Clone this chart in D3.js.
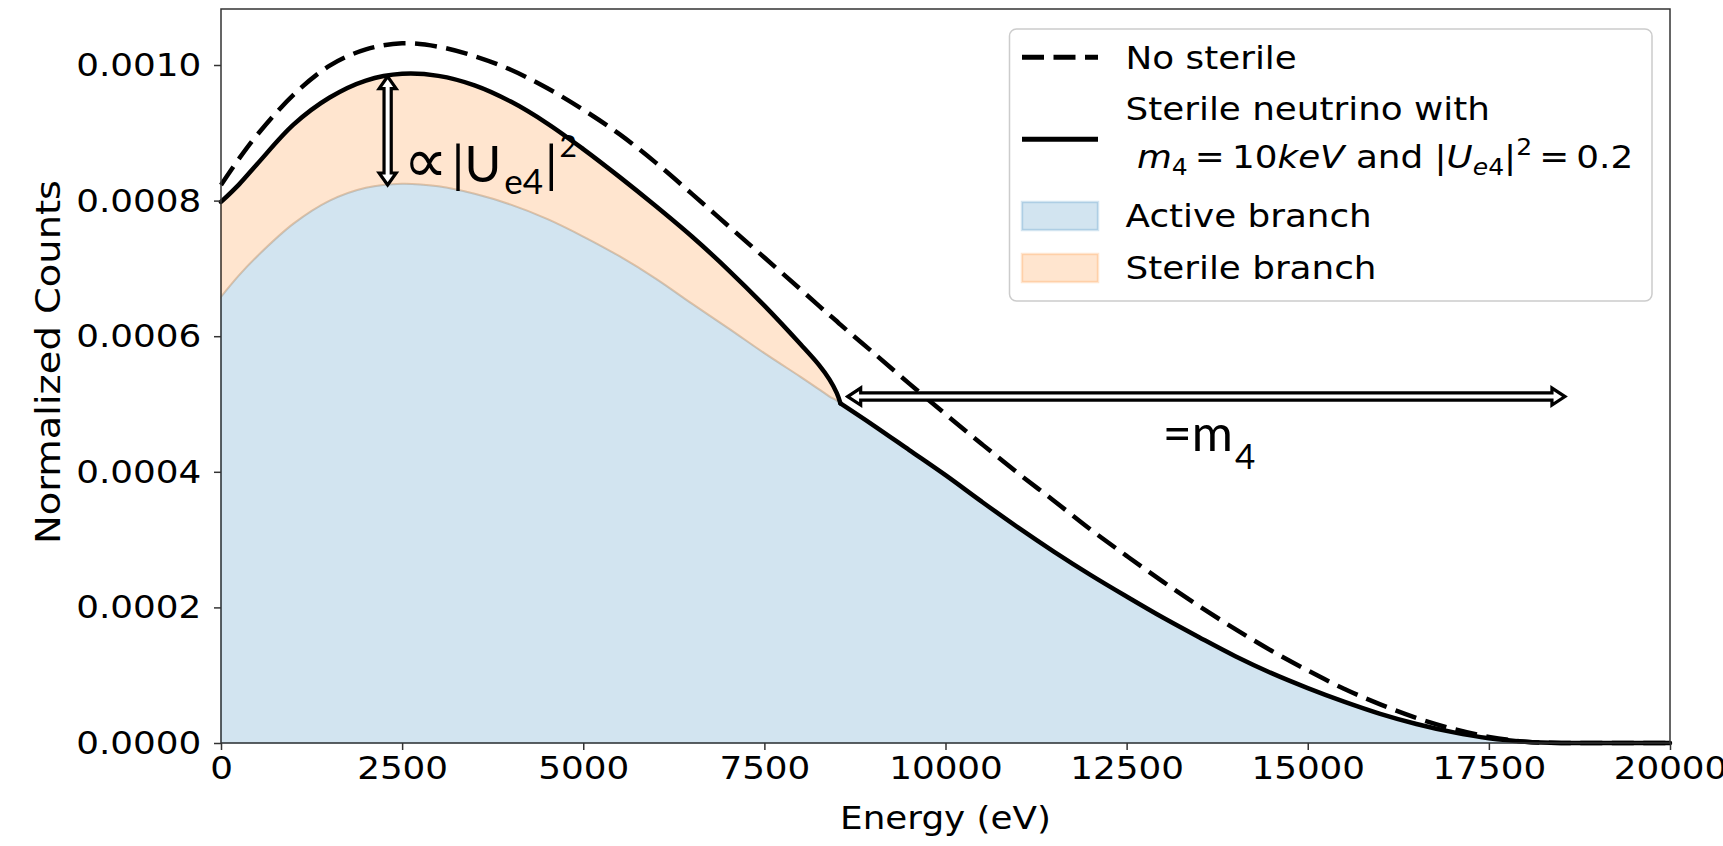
<!DOCTYPE html>
<html><head><meta charset="utf-8">
<script src="https://cdn.jsdelivr.net/npm/d3@7"></script>
<style>
body{margin:0;background:#fff;}
svg text{font-family:"DejaVu Sans",sans-serif;fill:#000;}
</style></head>
<body><svg id="chart" width="1723" height="846"></svg>
<script>
// ---------- data ----------
const energy = [0,250,500,1000,1500,2000,2500,3000,3500,4000,4500,5000,5500,6000,6500,7000,7500,8000,8250,8400,8500,8550,
  9000,9500,10000,10500,11000,11500,12000,12500,13000,13500,14000,14500,15000,15500,16000,16500,17000,17500,18000,18500,19000,19500,20000];
const noSterile = [0.000823,0.000862,0.000897,0.000956,0.000999,0.001023,0.001032,0.001027,0.001013,0.000993,0.000966,0.000934,
  0.000898,0.000856,0.000810,0.000763,0.000716,0.000669,0.000645,0.000631,0.000622,0.000617,
  0.000576,0.000530,0.000485,0.000441,0.000398,0.000357,0.000315,0.000276,0.000238,0.000202,0.000168,0.000136,0.000107,
  0.000080,0.000057,0.000037,0.000021,0.000009,0.000002,0,0,0,0];
const activeBranch = [0.000658,0.000690,0.000718,0.000766,0.000800,0.000819,0.000825,0.000821,0.000810,0.000794,0.000773,0.000747,
  0.000718,0.000685,0.000648,0.000612,0.000575,0.000540,0.000522,0.000511,0.000505,0.000501,
  0.000469,0.000432,0.000395,0.000356,0.000318,0.000282,0.000248,0.000216,0.000185,0.000156,0.000128,0.000103,0.000081,
  0.000061,0.000043,0.000028,0.000016,0.000007,0.000002,0,0,0,0];
const withSterile = [0.000798,0.000824,0.000854,0.000912,0.000952,0.000977,0.000987,0.000984,0.000970,0.000946,0.000914,0.000876,
  0.000835,0.000792,0.000747,0.000698,0.000645,0.000588,0.000558,0.000536,0.000516,0.000501,
  0.000469,0.000432,0.000395,0.000356,0.000318,0.000282,0.000248,0.000216,0.000185,0.000156,0.000128,0.000103,0.000081,
  0.000061,0.000043,0.000028,0.000016,0.000007,0.000002,0,0,0,0];
const kinkEnergy = 8550;             // end of the sterile branch (E0 - m4)
const xTicks = [0,2500,5000,7500,10000,12500,15000,17500,20000];
const yTicks = [0,0.0002,0.0004,0.0006,0.0008,0.0010];
const legendLabels = ["No sterile","Sterile neutrino with","Active branch","Sterile branch"];
// annotation anchors in data units
const uArrow = {e:2300, top:0.000983, bottom:0.000823};
const mArrow = {from:8650, to:18550, v:0.000511};
const uLabel = {e:2520, v:0.000828};
const mLabel = {e:13000, v:0.000430};

// ---------- layout ----------
const M = {left:221, right:1670, top:9, bottom:743};
const SX = 1.1, FS = 32.5;
const x = d3.scaleLinear().domain([0,20000]).range([M.left,M.right]);
const y = d3.scaleLinear().domain([0,0.0010826]).range([M.bottom,M.top]);
const svg = d3.select('#chart');
const pts = energy.map((e,i)=>({e, ns:noSterile[i], a:activeBranch[i], t:withSterile[i]}));
const k = energy.indexOf(kinkEnergy);
const curve = d3.curveCatmullRom.alpha(0.5);
const BLUE = '#1f77b4', ORANGE = '#ff7f0e';

// active branch fill
svg.append('path').datum(pts)
  .attr('d', d3.area().x(d=>x(d.e)).y0(y(0)).y1(d=>y(d.a)).curve(curve))
  .attr('fill',BLUE).attr('fill-opacity',0.2).attr('stroke',BLUE).attr('stroke-opacity',0.2).attr('stroke-width',2);
// sterile branch fill
svg.append('path').datum(pts.slice(0,k+1))
  .attr('d', d3.area().x(d=>x(d.e)).y0(d=>y(d.a)).y1(d=>y(d.t)).curve(curve))
  .attr('fill',ORANGE).attr('fill-opacity',0.2).attr('stroke',ORANGE).attr('stroke-opacity',0.2).attr('stroke-width',2);

// no sterile (dashed)
svg.append('path').datum(pts)
  .attr('d', d3.line().x(d=>x(d.e)).y(d=>y(d.ns)).curve(curve))
  .attr('fill','none').attr('stroke','#000').attr('stroke-width',4.5).attr('stroke-dasharray','22,9.5');
// with sterile (solid), two pieces so the kink stays sharp
const solidLine = d3.line().x(d=>x(d.e)).y(d=>y(d.t)).curve(curve);
[pts.slice(0,k+1), pts.slice(k)].forEach(seg=>{
  svg.append('path').datum(seg).attr('d', solidLine)
    .attr('fill','none').attr('stroke','#000').attr('stroke-width',4.5)
    .attr('stroke-linecap','round').attr('stroke-linejoin','round');
});

// ---------- hollow double arrows ----------
function hollowArrow(p0,p1,h,Hh,L){
  const dx=p1[0]-p0[0], dy=p1[1]-p0[1], len=Math.hypot(dx,dy);
  const ux=dx/len, uy=dy/len, nx=-uy, ny=ux;
  const loc=[[0,0],[L,Hh],[L,h],[len-L,h],[len-L,Hh],[len,0],[len-L,-Hh],[len-L,-h],[L,-h],[L,-Hh]];
  const g=loc.map(([t,s])=>[p0[0]+ux*t+nx*s, p0[1]+uy*t+ny*s]);
  svg.append('path').attr('d','M'+g.map(p=>p.join(',')).join('L')+'Z')
    .attr('fill','#fff').attr('stroke','#000').attr('stroke-width',3.2).attr('stroke-linejoin','miter');
}
hollowArrow([x(uArrow.e),y(uArrow.top)],[x(uArrow.e),y(uArrow.bottom)],3.6,8.5,12);
hollowArrow([x(mArrow.from),y(mArrow.v)],[x(mArrow.to),y(mArrow.v)],3.6,8.5,13);

// annotation texts
const ann = "Lato, 'DejaVu Sans', sans-serif";
const t1 = svg.append('text').attr('x',x(uLabel.e)).attr('y',y(uLabel.v)).style('font-family',ann).style('font-size','50px');
t1.append('tspan').text('∝').style('font-family',"'DejaVu Sans'").style('font-size','62px');
t1.append('tspan').attr('dx',4).text('|U');
t1.append('tspan').attr('dy',12).attr('dx',3).style('font-size','35px').text('e4');
t1.append('tspan').attr('dy',-12).attr('dx',2).text('|');
t1.append('tspan').attr('dy',-25).attr('dx',2).style('font-size','30px').text('2');

const t2 = svg.append('text').attr('x',x(mLabel.e)).attr('y',y(mLabel.v)).style('font-family',ann).style('font-size','50px');
t2.append('tspan').text('=m');
t2.append('tspan').attr('dy',18).attr('dx',2).style('font-size','35px').text('4');

// ---------- axes ----------
const yAxis = d3.axisLeft(y).tickValues(yTicks).tickFormat(d3.format('.4f')).tickSize(7).tickSizeOuter(0).tickPadding(11);
const gy = svg.append('g').attr('transform',`translate(${M.left},0)`).call(yAxis);
const xAxis = d3.axisBottom(x).tickValues(xTicks).tickFormat(d=>String(d)).tickSize(7).tickSizeOuter(0).tickPadding(6);
const gx = svg.append('g').attr('transform',`translate(0,${M.bottom})`).call(xAxis);
[gx,gy].forEach(g=>{
  g.select('.domain').remove();
  g.selectAll('.tick line').attr('stroke','#333').attr('stroke-width',1.5);
  g.selectAll('.tick text').style('font-size',FS+'px').style('font-family','DejaVu Sans').attr('fill','#000')
    .attr('transform',`scale(${SX},1)`);
});

// frame
svg.append('rect').attr('x',M.left).attr('y',M.top).attr('width',M.right-M.left).attr('height',M.bottom-M.top)
  .attr('fill','none').attr('stroke','#333').attr('stroke-width',1.5);

// axis labels
svg.append('text').attr('transform',`translate(${(M.left+M.right)/2},829) scale(${SX},1)`)
  .attr('text-anchor','middle').style('font-size',FS+'px').text('Energy (eV)');
svg.append('text').attr('transform',`translate(60,362) rotate(-90) scale(1.13,1)`)
  .attr('text-anchor','middle').style('font-size','34px').text('Normalized Counts');

// ---------- legend ----------
const lg = svg.append('g');
lg.append('rect').attr('x',1009.5).attr('y',29).attr('width',642.5).attr('height',272).attr('rx',7)
  .attr('fill','#fff').attr('fill-opacity',0.8).attr('stroke','#cccccc').attr('stroke-width',1.5);
const hx0=1022, hx1=1098, tx=1125.6;
lg.append('line').attr('x1',hx0).attr('x2',hx1).attr('y1',57.3).attr('y2',57.3)
  .attr('stroke','#000').attr('stroke-width',5).attr('stroke-dasharray','22,9.5');
lg.append('line').attr('x1',hx0).attr('x2',hx1).attr('y1',139.3).attr('y2',139.3)
  .attr('stroke','#000').attr('stroke-width',5);
lg.append('rect').attr('x',hx0).attr('y',202).attr('width',hx1-hx0).attr('height',28)
  .attr('fill',BLUE).attr('fill-opacity',0.2).attr('stroke',BLUE).attr('stroke-opacity',0.2).attr('stroke-width',2.5);
lg.append('rect').attr('x',hx0).attr('y',254).attr('width',hx1-hx0).attr('height',28)
  .attr('fill',ORANGE).attr('fill-opacity',0.2).attr('stroke',ORANGE).attr('stroke-opacity',0.2).attr('stroke-width',2.5);
function ltext(px,py){ return lg.append('text').attr('transform',`translate(${px},${py}) scale(${SX},1)`).style('font-size',FS+'px'); }
ltext(tx,68.5).text(legendLabels[0]);
ltext(tx,120).text(legendLabels[1]);
ltext(tx,226.5).text(legendLabels[2]);
ltext(tx,279).text(legendLabels[3]);
const mt = ltext(tx,168.3);
const sub = 6.5, sup = 13, small = (FS*0.7)+'px';
mt.append('tspan').text('\u00a0');
mt.append('tspan').style('font-style','italic').text('m');
mt.append('tspan').attr('dy',sub).style('font-size',small).text('4');
mt.append('tspan').attr('dy',-sub).text('\u2009=\u200910');
mt.append('tspan').style('font-style','italic').text('keV');
mt.append('tspan').text(' and |');
mt.append('tspan').style('font-style','italic').text('U');
mt.append('tspan').attr('dy',sub).style('font-size',small).style('font-style','italic').text('e');
mt.append('tspan').style('font-size',small).text('4');
mt.append('tspan').attr('dy',-sub).text('|');
mt.append('tspan').attr('dy',-sup).style('font-size',small).text('2');
mt.append('tspan').attr('dy',sup).text('\u2009=\u20090.2');
</script>
</body></html>
